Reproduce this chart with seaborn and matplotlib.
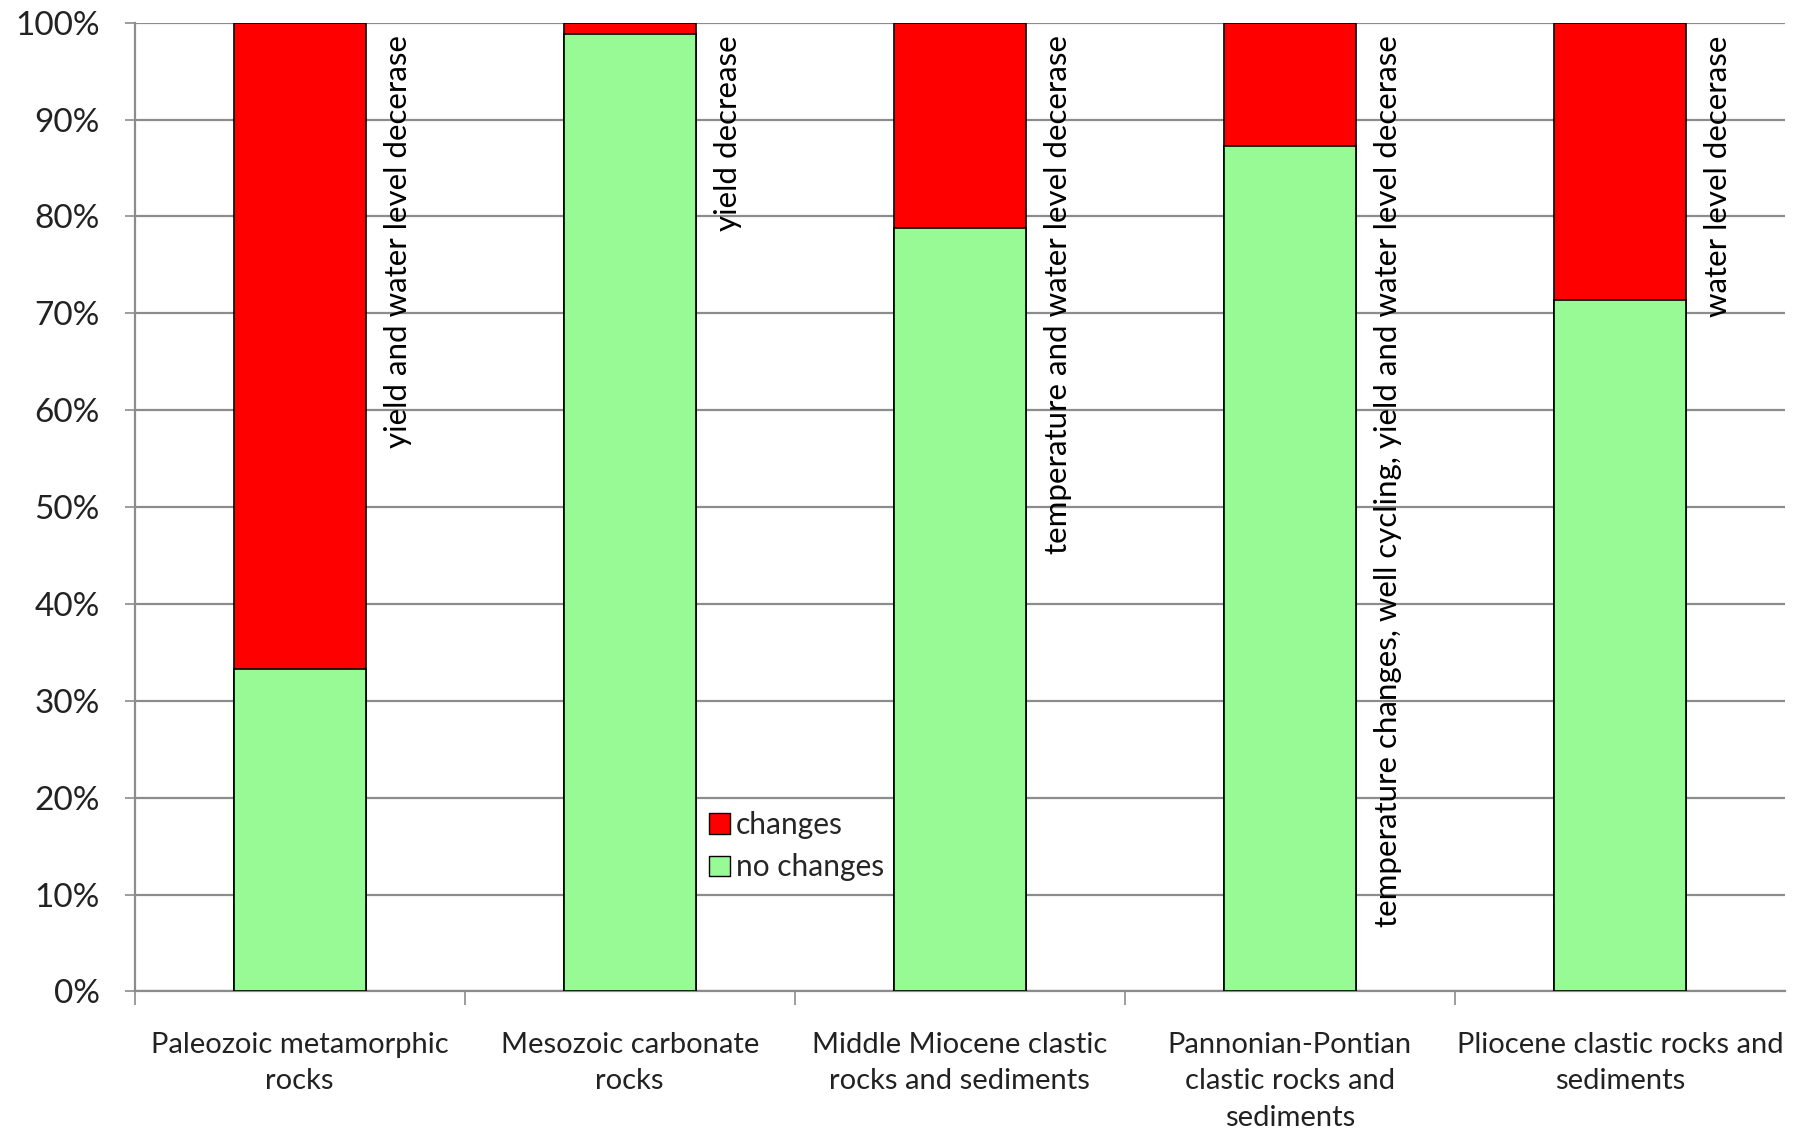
import matplotlib.pyplot as plt
import pandas as pd
import seaborn as sns
from matplotlib.patches import Patch

# values (percent of wells)
categories = [
    "Paleozoic metamorphic\nrocks",
    "Mesozoic carbonate\nrocks",
    "Middle Miocene clastic\nrocks and sediments",
    "Pannonian-Pontian\nclastic rocks and\nsediments",
    "Pliocene clastic rocks and\nsediments",
]
no_changes = [33.3, 98.8, 78.8, 87.3, 71.4]
changes = [66.7, 1.2, 21.2, 12.7, 28.6]
notes = [
    "yield and water level decerase",
    "yield decrease",
    "temperature and water level decerase",
    "temperature changes, well cycling, yield and water level decerase",
    "water level decerase",
]

RED = "#ff0000"
GREEN = "#98fa94"
GRID = "#8c8c8c"

sns.set_style("white")
plt.rcParams["font.family"] = ["Lato", "DejaVu Sans"]

df = pd.DataFrame({
    "category": categories,
    "no_changes": no_changes,
    "total": [a + b for a, b in zip(no_changes, changes)],
})

fig = plt.figure(figsize=(17.94, 11.33), dpi=100)
ax = fig.add_axes([0.075, 0.125, 0.92, 0.855])

# stacked bars: full height in red, "no changes" part painted over in green
sns.barplot(data=df, x="category", y="total", color=RED, width=0.4,
            edgecolor="black", linewidth=1.2, saturation=1, ax=ax, zorder=3)
sns.barplot(data=df, x="category", y="no_changes", color=GREEN, width=0.4,
            edgecolor="black", linewidth=1.2, saturation=1, ax=ax, zorder=4)

for i, txt in enumerate(notes):
    ax.text(i + 0.255, 98.7, txt, rotation=90, ha="left", va="top",
            fontsize=22.5, color="black", zorder=5)

ax.set_ylim(0, 100)
ax.set_xlim(-0.5, 4.5)
ax.set_yticks(range(0, 101, 10))
ax.set_yticklabels([f"{v}%" for v in range(0, 101, 10)], fontsize=24,
                   color="#222222")
ax.yaxis.grid(True, color=GRID, linewidth=1.6, zorder=0)
ax.set_axisbelow(True)

ax.set_xticks(range(len(categories)))
ax.set_xticklabels(categories, fontsize=21, linespacing=1.5, color="#222222")
ax.set_xticks([i - 0.5 for i in range(len(categories))], minor=True)
ax.tick_params(axis="x", which="major", length=0, pad=29)
ax.tick_params(axis="x", which="minor", length=10, width=1.2, color=GRID,
               direction="out", bottom=True)
ax.tick_params(axis="y", length=7, width=1.2, color=GRID, direction="out",
               left=True, pad=18)
ax.set_xlabel("")
ax.set_ylabel("")

for side in ["top", "right"]:
    ax.spines[side].set_visible(False)
for side in ["left", "bottom"]:
    ax.spines[side].set_color(GRID)
    ax.spines[side].set_linewidth(1.6)

handles = [Patch(facecolor=RED, edgecolor="black", label="changes"),
           Patch(facecolor=GREEN, edgecolor="black", label="no changes")]
ax.legend(handles=handles, loc="upper left", bbox_to_anchor=(0.341, 0.199),
          frameon=False, fontsize=21.5, handlelength=0.7, handleheight=0.7,
          handletextpad=0.2, labelspacing=0.5, borderaxespad=0)

fig.savefig("out.png", dpi=100)
